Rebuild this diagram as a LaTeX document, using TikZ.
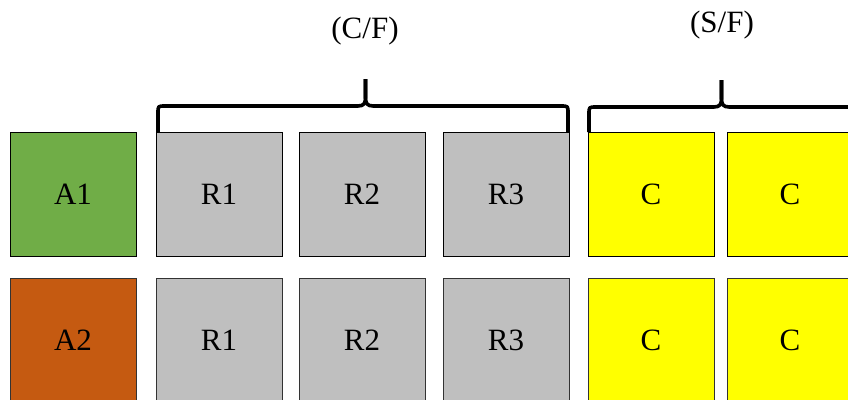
\documentclass[tikz,border=0pt]{standalone}
\usepackage{fontspec}
\setmainfont{Liberation Serif}
\definecolor{agreen}{HTML}{70AD47}
\definecolor{aorange}{HTML}{C55A11}
\definecolor{rgray}{HTML}{BFBFBF}
\definecolor{cyellow}{HTML}{FFFF00}
\tikzset{
  cell/.style={draw=black, line width=1pt, minimum width=126pt, minimum height=124pt,
               inner sep=0pt, font=\fontsize{31}{36}\selectfont},
  lowcell/.style={cell, draw=black!80},
  bracket/.style={line width=3.6pt, line cap=butt, line join=round},
  caption/.style={font=\fontsize{31}{36}\selectfont, inner sep=0pt}
}
\begin{document}
\begin{tikzpicture}[x=1pt,y=-1pt]
\useasboundingbox (0,0) rectangle (848,399);
\clip (0,0) rectangle (848,399);
% first row
\node[cell, fill=agreen]  (a1)  at (73,194)  {A1};
\node[cell, fill=rgray]   (r1a) at (219,194) {R1};
\node[cell, fill=rgray]   (r2a) at (362,194) {R2};
\node[cell, fill=rgray]   (r3a) at (506,194) {R3};
\node[cell, fill=cyellow] (c1a) at (651,194) {C};
\node[cell, fill=cyellow] (c2a) at (790,194) {C};
% second row
\node[lowcell, fill=aorange] (a2)  at (73,340)  {A2};
\node[lowcell, fill=rgray]   (r1b) at (219,340) {R1};
\node[lowcell, fill=rgray]   (r2b) at (362,340) {R2};
\node[lowcell, fill=rgray]   (r3b) at (506,340) {R3};
\node[lowcell, fill=cyellow] (c1b) at (651,340) {C};
\node[lowcell, fill=cyellow] (c2b) at (790,340) {C};
% brace over R1--R3
\draw[bracket] (158,132) -- (158,113) .. controls (158,106) .. (165,106)
  -- (358,106) .. controls (364,106) and (365.5,103) .. (365.5,98) -- (365.5,79);
\draw[bracket] (568,132) -- (568,113) .. controls (568,106) .. (561,106)
  -- (373,106) .. controls (367,106) and (365.5,103) .. (365.5,98) -- (365.5,79);
% brace over the C cells
\draw[bracket] (589,132) -- (589,114) .. controls (589,107) .. (596,107)
  -- (714,107) .. controls (720,107) and (721.5,104) .. (721.5,99) -- (721.5,80);
\draw[bracket] (855,132) -- (855,114) .. controls (855,107) .. (848,107)
  -- (729,107) .. controls (723,107) and (721.5,104) .. (721.5,99) -- (721.5,80);
% captions
\node[caption] (cf) at (365,31) {(C/F)};
\node[caption] (sf) at (722,25) {(S/F)};
\end{tikzpicture}
\end{document}
